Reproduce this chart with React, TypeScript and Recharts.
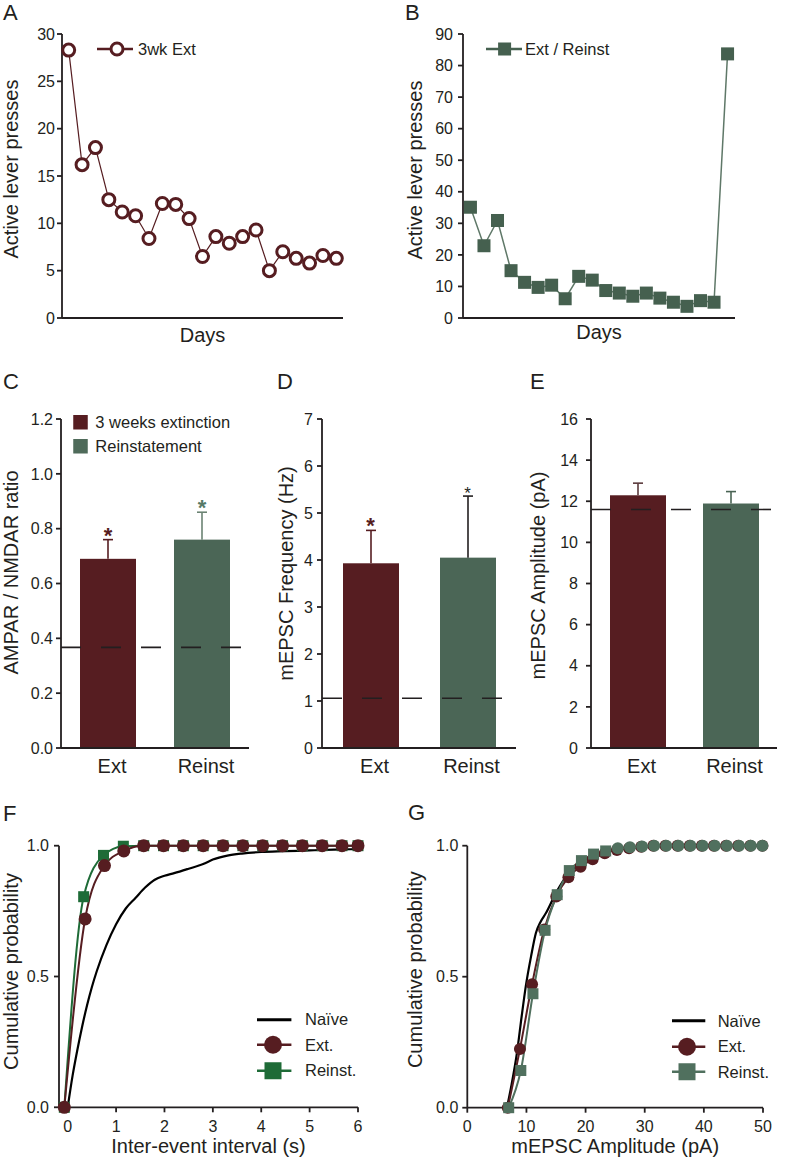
import React from "react";
import {
  LineChart,
  Line,
  BarChart,
  Bar,
  XAxis,
  YAxis,
  Legend,
  ReferenceLine,
  ReferenceDot,
  Label,
} from "recharts";

const INK = "#231f20";
const MAROON = "#561d21";
const SAGE = "#4b6656";
const SAGE_LINE = "#5f7868";
const GREEN = "#1e6b37";
const G_SAGE = "#50705e";
const FONT = '"Liberation Sans", Arial, Helvetica, sans-serif';

// A: active lever presses, 3 weeks of extinction
const extDays = [1, 2, 3, 4, 5, 6, 7, 8, 9, 10, 11, 12, 13, 14, 15, 16, 17, 18, 19, 20, 21];
const extPresses = [28.3, 16.2, 18.0, 12.5, 11.2, 10.8, 8.4, 12.1, 12.0, 10.5, 6.5, 8.6, 7.9, 8.6, 9.3, 5.0, 7.0, 6.3, 5.8, 6.6, 6.3];

// B: extinction then reinstatement day
const reinstDays = [1, 2, 3, 4, 5, 6, 7, 8, 9, 10, 11, 12, 13, 14, 15, 16, 17, 18, 19, 20];
const reinstPresses = [35.1, 22.9, 30.9, 15.0, 11.3, 9.7, 10.4, 6.1, 13.2, 12.0, 8.7, 7.9, 6.9, 7.9, 6.3, 5.0, 3.7, 5.5, 5.0, 83.7];

// C-E: group means, SEM and naive level (dashed line)
const groups = ["Ext", "Reinst"];
const ratioMean = [0.69, 0.76];
const ratioSem = [0.07, 0.1];
const ratioNaive = 0.367;
const freqMean = [3.93, 4.05];
const freqSem = [0.7, 1.31];
const freqNaive = 1.06;
const ampMean = [12.29, 11.89];
const ampSem = [0.59, 0.58];
const ampNaive = 11.6;

// F: cumulative inter-event interval
const iviNaiveX = [0, 0.1, 0.2, 0.3, 0.4, 0.5, 0.6, 0.8, 1.0, 1.2, 1.4, 1.6, 1.8, 2.0, 2.2, 2.5, 2.8, 3.0, 3.3, 3.6, 4.0, 4.5, 5.0, 5.5, 6.0];
const iviNaiveY = [0, 0.12, 0.22, 0.31, 0.39, 0.46, 0.52, 0.62, 0.7, 0.76, 0.8, 0.84, 0.87, 0.885, 0.895, 0.912, 0.93, 0.947, 0.962, 0.97, 0.976, 0.979, 0.982, 0.985, 0.987];
const iviExtX = [-0.07, 0.36, 0.76, 1.16, 1.57, 1.98, 2.39, 2.8, 3.21, 3.62, 4.03, 4.44, 4.85, 5.26, 5.67, 6.0];
const iviExtY = [0, 0.72, 0.924, 0.98, 1, 1, 1, 1, 1, 1, 1, 1, 1, 1, 1, 1];
const iviReinstX = [-0.07, 0.33, 0.74, 1.15, 1.57, 1.98, 2.39, 2.8, 3.21, 3.62, 4.03, 4.44, 4.85, 5.26, 5.67, 6.0];
const iviReinstY = [0, 0.805, 0.963, 0.998, 1, 1, 1, 1, 1, 1, 1, 1, 1, 1, 1, 1];

// G: cumulative amplitude
const ampNaiveX = [6.7, 7.5, 8.4, 9.2, 9.9, 10.8, 11.6, 12.4, 13.3, 15.0, 17.0, 19.0, 21.0, 23.0, 25.0, 28.0, 32.0, 40.0, 50.0];
const ampNaiveY = [0, 0.09, 0.21, 0.35, 0.465, 0.58, 0.667, 0.71, 0.743, 0.82, 0.89, 0.93, 0.96, 0.975, 0.985, 0.993, 0.998, 1, 1];
const ampExtX = [6.85, 8.9, 10.95, 13.0, 15.05, 17.1, 19.15, 21.2, 23.25, 25.3, 27.35, 29.4, 31.45, 33.5, 35.55, 37.6, 39.65, 41.7, 43.75, 45.8, 47.85, 49.9];
const ampExtY = [0, 0.224, 0.471, 0.68, 0.806, 0.88, 0.92, 0.948, 0.971, 0.984, 0.99, 0.996, 1, 1, 1, 1, 1, 1, 1, 1, 1, 1];
const ampReinstX = [7.0, 9.05, 11.1, 13.15, 15.2, 17.25, 19.3, 21.35, 23.4, 25.45, 27.5, 29.55, 31.6, 33.65, 35.7, 37.75, 39.8, 41.85, 43.9, 45.95, 47.95, 49.9];
const ampReinstY = [0, 0.142, 0.435, 0.677, 0.813, 0.905, 0.943, 0.968, 0.98, 0.99, 0.994, 0.997, 1, 1, 1, 1, 1, 1, 1, 1, 1, 1];

const toPoints = (xs: number[], ys: number[]) => xs.map((x, i) => ({ x, y: ys[i] }));
const extRows = extDays.map((day, i) => ({ day, presses: extPresses[i] }));
const reinstRows = reinstDays.map((day, i) => ({ day, presses: reinstPresses[i] }));

const AXIS = { stroke: INK, strokeWidth: 1.8 };
const TICK = { fill: INK, fontSize: 16 };
const fmt1 = (v: number) => v.toFixed(1);

const yTitle = (value: string, offset: number, dy: number) => (
  <Label
    value={value}
    angle={-90}
    position="insideLeft"
    offset={offset}
    dy={dy}
    fill={INK}
    fontSize={20}
    textAnchor="middle"
    style={{ textAnchor: "middle" }}
  />
);

type Icon = { kind: "ring" | "dot" | "square" | "line" | "block"; color: string; w: number; cx: number; size: number; lw: number };

function LegendRows({ payload, icons, order, rowH, gap, fontSize }: any) {
  const items = [...(payload ?? [])].sort((a: any, b: any) => order.indexOf(a.value) - order.indexOf(b.value));
  return (
    <div>
      {items.map((item: any) => {
        const ic: Icon = icons[item.value];
        if (!ic) return null;
        const c = rowH / 2;
        return (
          <div key={item.value} style={{ display: "flex", alignItems: "center", height: rowH }}>
            <svg width={ic.w} height={rowH} style={{ display: "block", overflow: "visible" }}>
              {ic.kind !== "block" && <line x1={0} x2={ic.w} y1={c} y2={c} stroke={ic.color} strokeWidth={ic.lw} />}
              {ic.kind === "ring" && <circle cx={ic.cx} cy={c} r={ic.size} fill="#fff" stroke={ic.color} strokeWidth={3} />}
              {ic.kind === "dot" && <circle cx={ic.cx} cy={c} r={ic.size} fill={ic.color} />}
              {(ic.kind === "square" || ic.kind === "block") && (
                <rect x={ic.cx - ic.size / 2} y={c - ic.size / 2} width={ic.size} height={ic.size} fill={ic.color} />
              )}
            </svg>
            <span style={{ marginLeft: gap, fontSize, color: INK, lineHeight: 1, whiteSpace: "nowrap" }}>{item.value}</span>
          </div>
        );
      })}
    </div>
  );
}

const squareDot = (side: number, color: string) => (p: any) => {
  if (p.cx == null || p.cy == null) return <g key={`e-${p.index}`} />;
  return <rect key={`s-${p.index}`} x={p.cx - side / 2} y={p.cy - side / 2} width={side} height={side} fill={color} />;
};

// G reinstatement markers turn into circles on the plateau
const gReinstDot = (p: any) => {
  if (p.cx == null || p.cy == null) return <g key={`e-${p.index}`} />;
  if (p.payload.x > 24.5) return <circle key={`c-${p.index}`} cx={p.cx} cy={p.cy} r={6} fill={G_SAGE} />;
  return <rect key={`s-${p.index}`} x={p.cx - 5.5} y={p.cy - 5.5} width={11} height={11} fill={G_SAGE} />;
};

const semBar = (key: "ext" | "reinst", errColor: string) => (props: any) => {
  const { x, y, width, height, fill, payload } = props;
  const v = payload?.[key];
  if (v == null || !height) return <g />;
  const top = y - (payload.sem * height) / v;
  const cx = x + width / 2;
  return (
    <g>
      <rect x={x} y={y} width={width} height={height} fill={fill} />
      <line x1={cx} x2={cx} y1={y} y2={top} stroke={errColor} strokeWidth={1.6} />
      <line x1={cx - 5} x2={cx + 5} y1={top} y2={top} stroke={errColor} strokeWidth={1.6} />
    </g>
  );
};

type Star = { color: string; size: number; weight: number } | null;

function BarPanel(p: {
  width: number;
  right: number;
  axisW: number;
  means: number[];
  sems: number[];
  naive: number;
  yMax: number;
  yTicks: number[];
  fmt?: (v: number) => string;
  title: string;
  titleOffset: number;
  titleDy: number;
  tickMargin: number;
  errColors: string[];
  stars: Star[];
  legend?: boolean;
}) {
  const rows = groups.map((group, i) => ({
    group,
    ext: i === 0 ? p.means[i] : null,
    reinst: i === 1 ? p.means[i] : null,
    sem: p.sems[i],
  }));
  return (
    <BarChart width={p.width} height={420} data={rows} margin={{ top: 59, right: p.right, bottom: 0, left: 0 }}>
      <XAxis
        dataKey="group"
        height={32}
        axisLine={AXIS}
        tickLine={false}
        tickSize={0}
        tickMargin={11}
        tick={{ fill: INK, fontSize: 20, dx: 4 }}
      />
      <YAxis
        type="number"
        domain={[0, p.yMax]}
        ticks={p.yTicks}
        tickFormatter={p.fmt}
        width={p.axisW}
        axisLine={AXIS}
        tickLine={AXIS}
        tickSize={5}
        tickMargin={p.tickMargin}
        tick={TICK}
      >
        {yTitle(p.title, p.titleOffset, p.titleDy)}
      </YAxis>
      {p.legend && (
        <Legend
          layout="vertical"
          align="center"
          verticalAlign="middle"
          wrapperStyle={{ left: 73.3, top: 49.5 }}
          content={(lp: any) => (
            <LegendRows
              payload={lp.payload}
              order={["3 weeks extinction", "Reinstatement"]}
              icons={{
                "3 weeks extinction": { kind: "block", color: MAROON, w: 15, cx: 7.5, size: 14.5, lw: 0 },
                Reinstatement: { kind: "block", color: "#4f6b5a", w: 15, cx: 7.5, size: 14.5, lw: 0 },
              }}
              rowH={24.5}
              gap={7}
              fontSize={16.5}
            />
          )}
        />
      )}
      <Bar dataKey="ext" name="3 weeks extinction" stackId="s" fill={MAROON} barSize={56} shape={semBar("ext", p.errColors[0])} isAnimationActive={false} />
      <Bar dataKey="reinst" name="Reinstatement" stackId="s" fill={SAGE} barSize={56} shape={semBar("reinst", p.errColors[1])} isAnimationActive={false} />
      <ReferenceLine y={p.naive} stroke={INK} strokeWidth={1.6} strokeDasharray="20 20" />
      {p.stars.map((s, i) =>
        s ? (
          <ReferenceDot
            key={groups[i]}
            x={groups[i]}
            y={p.means[i] + p.sems[i]}
            r={1}
            fill="none"
            stroke="none"
            label={{ value: "*", position: "top", offset: -4, fill: s.color, fontSize: s.size, fontWeight: s.weight }}
          />
        ) : null
      )}
    </BarChart>
  );
}

const PanelA = () => (
  <LineChart width={360} height={360} data={extRows} margin={{ top: 34, right: 17, bottom: 12, left: 0 }}>
    <XAxis dataKey="day" type="number" domain={[0.5, 21.5]} tick={false} tickLine={false} axisLine={AXIS} height={30}>
      <Label value="Days" position="insideBottom" offset={6} fill={INK} fontSize={20} />
    </XAxis>
    <YAxis type="number" domain={[0, 30]} ticks={[0, 5, 10, 15, 20, 25, 30]} width={62} axisLine={AXIS} tickLine={AXIS} tickSize={5} tickMargin={2} tick={TICK}>
      {yTitle("Active lever presses", 11, -7)}
    </YAxis>
    <Legend
      layout="vertical"
      align="center"
      verticalAlign="middle"
      wrapperStyle={{ left: 97, top: 39.3 }}
      content={(lp: any) => (
        <LegendRows
          payload={lp.payload}
          order={["3wk Ext"]}
          icons={{ "3wk Ext": { kind: "ring", color: MAROON, w: 36, cx: 20, size: 6, lw: 2.5 } }}
          rowH={20}
          gap={5}
          fontSize={16.5}
        />
      )}
    />
    <Line
      dataKey="presses"
      name="3wk Ext"
      stroke={MAROON}
      strokeWidth={1.2}
      dot={{ r: 6, fill: "#fff", stroke: MAROON, strokeWidth: 3 }}
      isAnimationActive={false}
    />
  </LineChart>
);

const PanelB = () => (
  <LineChart width={360} height={360} data={reinstRows} margin={{ top: 34, right: 15, bottom: 12, left: 0 }}>
    <XAxis dataKey="day" type="number" domain={[0.45, 20.55]} tick={false} tickLine={false} axisLine={AXIS} height={30}>
      <Label value="Days" position="insideBottom" offset={9} fill={INK} fontSize={20} />
    </XAxis>
    <YAxis type="number" domain={[0, 90]} ticks={[0, 10, 20, 30, 40, 50, 60, 70, 80, 90]} width={73} axisLine={AXIS} tickLine={AXIS} tickSize={5} tickMargin={5} tick={TICK}>
      {yTitle("Active lever presses", 25, -6)}
    </YAxis>
    <Legend
      layout="vertical"
      align="center"
      verticalAlign="middle"
      wrapperStyle={{ left: 95.7, top: 39 }}
      content={(lp: any) => (
        <LegendRows
          payload={lp.payload}
          order={["Ext / Reinst"]}
          icons={{ "Ext / Reinst": { kind: "square", color: "#45604f", w: 36, cx: 18.6, size: 13, lw: 2.5 } }}
          rowH={20}
          gap={3.3}
          fontSize={16.5}
        />
      )}
    />
    <Line
      dataKey="presses"
      name="Ext / Reinst"
      stroke={SAGE_LINE}
      strokeWidth={1.5}
      dot={squareDot(13, "#45604f")}
      isAnimationActive={false}
    />
  </LineChart>
);

const cumIcons = (extR: number, sq: number, w: number, cx: number, reinstColor: string) => ({
  "Naïve": { kind: "line", color: "#000", w, cx, size: 0, lw: 3 },
  "Ext.": { kind: "dot", color: MAROON, w, cx, size: extR, lw: 2.5 },
  "Reinst.": { kind: "square", color: reinstColor, w, cx, size: sq, lw: 2.5 },
});

const PanelF = () => (
  <LineChart width={390} height={358} margin={{ top: 45.7, right: 32, bottom: 0, left: 0 }}>
    <XAxis dataKey="x" type="number" domain={[-0.18, 6]} ticks={[0, 1, 2, 3, 4, 5, 6]} height={50.7} axisLine={AXIS} tickLine={AXIS} tickSize={5} tickMargin={8} tick={TICK}>
      <Label value="Inter-event interval (s)" position="insideBottom" offset={5} fill={INK} fontSize={20} />
    </XAxis>
    <YAxis type="number" domain={[0, 1]} ticks={[0, 0.5, 1]} tickFormatter={fmt1} width={59} axisLine={AXIS} tickLine={AXIS} tickSize={5} tickMargin={5} tick={TICK}>
      {yTitle("Cumulative probability", 11, -5)}
    </YAxis>
    <Legend
      layout="vertical"
      align="center"
      verticalAlign="middle"
      wrapperStyle={{ left: 257.3, top: 206.5 }}
      content={(lp: any) => (
        <LegendRows
          payload={lp.payload}
          order={["Naïve", "Ext.", "Reinst."]}
          icons={cumIcons(9, 17, 34.4, 16, GREEN)}
          rowH={25.5}
          gap={13.3}
          fontSize={16.5}
        />
      )}
    />
    <Line data={toPoints(iviNaiveX, iviNaiveY)} dataKey="y" name="Naïve" type="monotone" stroke="#000" strokeWidth={2.2} dot={false} isAnimationActive={false} />
    <Line data={toPoints(iviReinstX, iviReinstY)} dataKey="y" name="Reinst." type="monotone" stroke={GREEN} strokeWidth={2} dot={squareDot(11, GREEN)} isAnimationActive={false} />
    <Line data={toPoints(iviExtX, iviExtY)} dataKey="y" name="Ext." type="monotone" stroke={MAROON} strokeWidth={2} dot={{ r: 6.5, fill: MAROON, stroke: "none" }} isAnimationActive={false} />
  </LineChart>
);

const PanelG = () => (
  <LineChart width={395} height={358} margin={{ top: 45.7, right: 22, bottom: 0, left: 0 }}>
    <XAxis dataKey="x" type="number" domain={[0, 50]} ticks={[0, 10, 20, 30, 40, 50]} height={50.3} axisLine={AXIS} tickLine={AXIS} tickSize={5} tickMargin={8} tick={TICK}>
      <Label value="mEPSC Amplitude (pA)" position="insideBottom" offset={5} fill={INK} fontSize={20} />
    </XAxis>
    <YAxis type="number" domain={[0, 1]} ticks={[0, 0.5, 1]} tickFormatter={fmt1} width={77.3} axisLine={AXIS} tickLine={AXIS} tickSize={5} tickMargin={4} tick={TICK}>
      {yTitle("Cumulative probability", 25, -7)}
    </YAxis>
    <Legend
      layout="vertical"
      align="center"
      verticalAlign="middle"
      wrapperStyle={{ left: 281.7, top: 208 }}
      content={(lp: any) => (
        <LegendRows
          payload={lp.payload}
          order={["Naïve", "Ext.", "Reinst."]}
          icons={cumIcons(9, 17, 33.3, 15, G_SAGE)}
          rowH={25.5}
          gap={12.7}
          fontSize={16.5}
        />
      )}
    />
    <Line data={toPoints(ampNaiveX, ampNaiveY)} dataKey="y" name="Naïve" type="monotone" stroke="#000" strokeWidth={2.2} dot={false} isAnimationActive={false} />
    <Line data={toPoints(ampExtX, ampExtY)} dataKey="y" name="Ext." type="monotone" stroke={MAROON} strokeWidth={2} dot={{ r: 6, fill: MAROON, stroke: "none" }} isAnimationActive={false} />
    <Line data={toPoints(ampReinstX, ampReinstY)} dataKey="y" name="Reinst." type="monotone" stroke={G_SAGE} strokeWidth={2} dot={gReinstDot} isAnimationActive={false} />
  </LineChart>
);

const Box = ({ left, top, children }: { left: number; top: number; children: React.ReactNode }) => (
  <div style={{ position: "absolute", left, top }}>{children}</div>
);

const letters: [string, number, number][] = [
  ["A", 3, 20],
  ["B", 405, 20],
  ["C", 3, 389],
  ["D", 277, 389],
  ["E", 530, 389],
  ["F", 3, 821],
  ["G", 408, 820],
];

export default function App() {
  return (
    <div
      style={{
        position: "absolute",
        left: 0,
        top: 0,
        width: 785,
        height: 1158,
        background: "#fff",
        fontFamily: FONT,
        overflow: "hidden",
      }}
    >
      <Box left={0} top={0}>
        <PanelA />
      </Box>
      <Box left={390} top={0}>
        <PanelB />
      </Box>
      <Box left={0} top={360}>
        <BarPanel
          width={260}
          right={11}
          axisW={61}
          means={ratioMean}
          sems={ratioSem}
          naive={ratioNaive}
          yMax={1.2}
          yTicks={[0, 0.2, 0.4, 0.6, 0.8, 1.0, 1.2]}
          fmt={fmt1}
          title="AMPAR / NMDAR ratio"
          titleOffset={11}
          titleDy={-11}
          tickMargin={3}
          errColors={[MAROON, "#6b8373"]}
          stars={[
            { color: MAROON, size: 22, weight: 700 },
            { color: "#557a66", size: 22, weight: 700 },
          ]}
          legend
        />
      </Box>
      <Box left={260} top={360}>
        <BarPanel
          width={270}
          right={14}
          axisW={62}
          means={freqMean}
          sems={freqSem}
          naive={freqNaive}
          yMax={7}
          yTicks={[0, 1, 2, 3, 4, 5, 6, 7]}
          title="mEPSC Frequency (Hz)"
          titleOffset={26}
          titleDy={-10}
          tickMargin={4}
          errColors={[MAROON, INK]}
          stars={[
            { color: MAROON, size: 22, weight: 700 },
            { color: INK, size: 17, weight: 400 },
          ]}
        />
      </Box>
      <Box left={520} top={360}>
        <BarPanel
          width={265}
          right={8}
          axisW={71}
          means={ampMean}
          sems={ampSem}
          naive={ampNaive}
          yMax={16}
          yTicks={[0, 2, 4, 6, 8, 10, 12, 14, 16]}
          title="mEPSC Amplitude (pA)"
          titleOffset={17.5}
          titleDy={-8}
          tickMargin={8}
          errColors={["#5b3a3c", "#4a6454"]}
          stars={[null, null]}
        />
      </Box>
      <Box left={0} top={800}>
        <PanelF />
      </Box>
      <Box left={390} top={800}>
        <PanelG />
      </Box>
      <svg width={785} height={1158} style={{ position: "absolute", left: 0, top: 0, pointerEvents: "none" }}>
        {letters.map(([t, x, y]) => (
          <text key={t} x={x} y={y} fontSize={22} fill={INK}>
            {t}
          </text>
        ))}
      </svg>
    </div>
  );
}
